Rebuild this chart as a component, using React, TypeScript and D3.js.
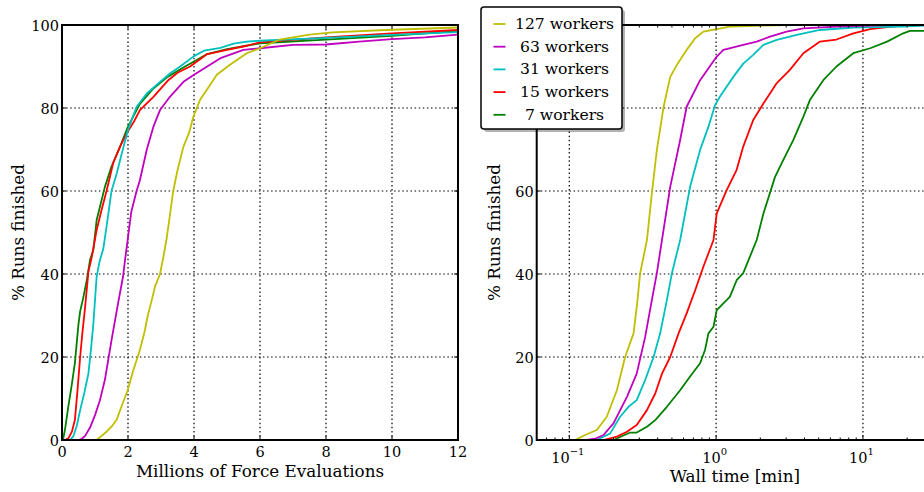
import React from 'react';
import * as d3 from 'd3';

type Pt = [number, number];

// Series metadata
const seriesLabels = ['127 workers', ' 63 workers', ' 31 workers', ' 15 workers', '  7 workers'];
const seriesColors = ['#bfbf00', '#bf00bf', '#00bfbf', '#ff0000', '#008000'];

// Cumulative % of runs finished vs. millions of force evaluations
const evals127: Pt[] = [[1.0,0],[1.05,0],[1.2,1],[1.35,2],[1.5,3.2],[1.65,4.8],[1.8,8],[1.99,12],[2.15,16.5],[2.36,21.7],[2.5,26],[2.6,30],[2.72,33.7],[2.82,37],[2.97,40],[3.07,44],[3.17,48.5],[3.25,53],[3.37,60],[3.5,65],[3.68,70.7],[3.85,74],[3.98,77.9],[4.18,81.9],[4.4,84.5],[4.58,86.7],[4.69,88],[5.1,90.5],[5.6,93.2],[6.0,94.4],[6.6,96.5],[7.5,97.7],[8.2,98.2],[9.8,98.8],[12,99.4]];
const evals63: Pt[] = [[0.5,0],[0.6,0.3],[0.7,1],[0.85,3],[1.0,6],[1.15,9.6],[1.3,14.5],[1.5,24],[1.7,33],[1.85,39.4],[1.92,44],[1.99,48.2],[2.1,55],[2.26,60],[2.36,62.6],[2.57,70],[2.77,75.5],[2.97,79.5],[3.27,82.7],[3.68,86.3],[4.0,88],[4.4,90],[4.8,92],[5.5,94],[6,94.4],[7,95.2],[8,95.3],[9,96],[10,96.6],[11,97],[12,97.7]];
const evals31: Pt[] = [[0.25,0],[0.35,1],[0.45,3.5],[0.55,7.2],[0.68,11.5],[0.8,16],[0.88,22],[0.95,28],[1.05,39.4],[1.15,43.4],[1.25,46],[1.35,51.4],[1.5,60],[1.66,64.3],[1.81,69],[2.0,74.7],[2.26,80.3],[2.57,83.5],[2.97,86.3],[3.3,88.5],[3.58,90],[4.0,92.5],[4.3,93.8],[4.8,94.5],[5.2,95.5],[5.6,96],[6,96.2],[8,96.9],[10,97.6],[12,98.3]];
const evals15: Pt[] = [[0.1,0],[0.2,0.5],[0.3,2],[0.39,4.8],[0.47,12],[0.55,20],[0.62,26],[0.7,32],[0.8,40.5],[0.9,44],[1.05,50.6],[1.2,55.5],[1.35,60],[1.55,66.7],[1.76,70.7],[1.96,73.9],[2.2,77],[2.36,79.5],[2.77,82.7],[3.22,86.7],[3.5,88.5],[3.88,90],[4.4,93],[5,94],[5.6,95],[6,95.8],[8,97],[10,98],[12,98.8]];
const evals7: Pt[] = [[0.03,0],[0.1,3],[0.19,8],[0.3,13.5],[0.39,18.5],[0.5,28],[0.55,31],[0.65,34.5],[0.75,38.5],[0.85,43.4],[0.95,45.8],[1.05,53],[1.3,61],[1.5,65.9],[1.76,70.7],[2.0,75.5],[2.36,81],[2.77,84.7],[3.2,87.5],[3.73,90],[4.4,93],[5,94.2],[6,95.6],[8,96.5],[10,97.4],[12,98.6]];

// Cumulative % of runs finished vs. wall time in minutes
const wall127: Pt[] = [[0.06,0],[0.11,0],[0.128,1.2],[0.154,2.4],[0.18,5.6],[0.211,12],[0.24,20],[0.274,25.7],[0.29,33],[0.304,40.2],[0.338,48.2],[0.366,59.8],[0.395,69.9],[0.439,80.3],[0.487,87.5],[0.541,90.4],[0.63,94],[0.72,96.8],[0.82,98.4],[1.01,99],[1.24,99.6],[3,100],[30,100]];
const wall63: Pt[] = [[0.06,0],[0.132,0],[0.15,0.3],[0.171,1.2],[0.2,4],[0.247,10.4],[0.288,16],[0.329,24.9],[0.365,33.7],[0.395,40.2],[0.428,48.2],[0.487,61],[0.569,72.3],[0.63,80.3],[0.778,86.7],[1.01,92.4],[1.12,94],[1.53,95.2],[1.89,96],[2.33,97.2],[3.02,98.4],[3.93,99.2],[6.6,99.6],[15,100],[30,100]];
const wall31: Pt[] = [[0.06,0],[0.154,0],[0.19,1.6],[0.222,5.6],[0.253,8],[0.288,9.6],[0.329,14.5],[0.375,20],[0.416,25.7],[0.462,33.7],[0.5,40.2],[0.569,48.2],[0.665,61],[0.778,69.9],[0.887,75.5],[0.984,80.7],[1.06,82.7],[1.31,87.5],[1.53,90.7],[1.79,92.8],[2.1,95.2],[2.59,96.4],[3.54,97.6],[5.1,98.8],[8.6,99.4],[18.6,99.6],[30,100]];
const wall15: Pt[] = [[0.06,0],[0.171,0],[0.211,0.8],[0.247,2],[0.288,3.6],[0.338,7.2],[0.385,11.2],[0.428,16],[0.487,20],[0.555,25.7],[0.63,30.5],[0.72,36.1],[0.82,41.8],[0.887,45],[0.96,48.2],[1.01,54.6],[1.18,60.2],[1.38,65.1],[1.53,70.7],[1.79,77.1],[2.1,81.1],[2.59,86],[3.18,89.2],[3.93,93.2],[5.1,96],[6.6,96.5],[8.6,98],[11.2,99],[14.6,99.5],[20,100],[30,100]];
const wall7: Pt[] = [[0.06,0],[0.2,0],[0.26,1.8],[0.288,1.8],[0.338,3.2],[0.385,4.8],[0.462,8],[0.569,12],[0.665,15.3],[0.778,18.5],[0.84,21.7],[0.887,25.7],[0.96,27.3],[1.01,31.3],[1.12,32.9],[1.24,34.5],[1.38,38.5],[1.53,40.2],[1.7,44.2],[1.89,48.2],[2.1,54.6],[2.52,63.4],[2.87,67.5],[3.36,72.3],[3.93,77.9],[4.35,81.9],[5.37,86.7],[6.6,90],[8.6,93.2],[11.2,94.4],[14.6,96],[18.8,98],[20.9,98.6],[30,98.6]];

const evalSeries = [evals127, evals63, evals31, evals15, evals7];
const wallSeries = [wall127, wall63, wall31, wall15, wall7];

// Axis ticks
const evalTicks = [0, 2, 4, 6, 8, 10, 12];
const pctTicks = [0, 20, 40, 60, 80, 100];
const wallMajorTicks = [0.1, 1, 10];
const wallTickExps = ['\u22121', '0', '1'];

const W = 924;
const H = 492;
const FONT = '"DejaVu Serif", "Liberation Serif", serif';
const TICK_FS = 14.5;
const LABEL_FS = 16.8;
const LEGEND_FS = 15.6;

const LP = { x0: 62, x1: 458, y0: 25, y1: 440 };
const RP = { x0: 536.7, x1: 933, y0: 25, y1: 440 };

const xEval = d3.scaleLinear().domain([0, 12]).range([LP.x0, LP.x1]);
const yL = d3.scaleLinear().domain([0, 100]).range([LP.y1, LP.y0]);
const xWall = d3.scaleLog().domain([0.06, 30]).range([RP.x0, RP.x1]);
const yR = d3.scaleLinear().domain([0, 100]).range([RP.y1, RP.y0]);

const wallMinorTicks = xWall.ticks().filter((t) => !wallMajorTicks.some((m) => Math.abs(m - t) < 1e-9));

const GRID_DASH = '1.5,2.6';

const legend = { x: 481, y: 7, w: 141, h: 122 };
const rowY = (i: number) => 24 + i * 22.7;

export default function App() {
  const lineL = d3.line<Pt>().x((d) => xEval(d[0])).y((d) => yL(d[1]));
  const lineR = d3.line<Pt>().x((d) => xWall(d[0])).y((d) => yR(d[1]));

  // right-panel y labels that sit beneath the legend box are not drawn
  const rightPctLabels = pctTicks.filter((t) => yR(t) > legend.y + legend.h + 4);

  return (
    <svg width={W} height={H} style={{ position: 'absolute', left: 0, top: 0, background: '#fff' }} fontFamily={FONT}>
      <defs>
        <clipPath id="clipL"><rect x={LP.x0} y={LP.y0 - 1} width={LP.x1 - LP.x0} height={LP.y1 - LP.y0 + 2} /></clipPath>
        <clipPath id="clipR"><rect x={RP.x0} y={RP.y0 - 1} width={RP.x1 - RP.x0} height={RP.y1 - RP.y0 + 2} /></clipPath>
      </defs>
      <rect width={W} height={H} fill="#fff" />

      {/* Left panel: grid */}
      <g stroke="#000" strokeWidth={1.2} strokeDasharray={GRID_DASH}>
        {evalTicks.slice(1, -1).map((t) => (
          <line key={'gx' + t} x1={xEval(t)} x2={xEval(t)} y1={LP.y0} y2={LP.y1} />
        ))}
        {pctTicks.slice(1, -1).map((t) => (
          <line key={'gy' + t} x1={LP.x0} x2={LP.x1} y1={yL(t)} y2={yL(t)} />
        ))}
      </g>
      {/* Left panel: curves */}
      <g clipPath="url(#clipL)" fill="none" strokeWidth={1.8} strokeLinejoin="round">
        {evalSeries.map((s, i) => (
          <path key={i} d={lineL(s) || ''} stroke={seriesColors[i]} />
        )).reverse()}
      </g>
      {/* Left panel: ticks */}
      <g stroke="#000" strokeWidth={1}>
        {evalTicks.map((t) => (
          <g key={'tx' + t}>
            <line x1={xEval(t)} x2={xEval(t)} y1={LP.y1} y2={LP.y1 - 4} />
            <line x1={xEval(t)} x2={xEval(t)} y1={LP.y0} y2={LP.y0 + 4} />
          </g>
        ))}
        {pctTicks.map((t) => (
          <g key={'ty' + t}>
            <line x1={LP.x0} x2={LP.x0 + 4} y1={yL(t)} y2={yL(t)} />
            <line x1={LP.x1} x2={LP.x1 - 4} y1={yL(t)} y2={yL(t)} />
          </g>
        ))}
      </g>
      <rect x={LP.x0} y={LP.y0} width={LP.x1 - LP.x0} height={LP.y1 - LP.y0} fill="none" stroke="#000" strokeWidth={2} />
      {/* Left panel: labels */}
      <g fontSize={TICK_FS} fill="#000">
        {evalTicks.map((t) => (
          <text key={'lx' + t} x={xEval(t)} y={457} textAnchor="middle">{t}</text>
        ))}
        {pctTicks.map((t) => (
          <text key={'ly' + t} x={LP.x0 - 3} y={yL(t) + 1} textAnchor="end" dominantBaseline="central">{t}</text>
        ))}
      </g>
      <text x={(LP.x0 + LP.x1) / 2} y={476.5} textAnchor="middle" fontSize={LABEL_FS}>Millions of Force Evaluations</text>
      <text transform={`translate(18,${(LP.y0 + LP.y1) / 2}) rotate(-90)`} textAnchor="middle" dominantBaseline="central" fontSize={LABEL_FS}>% Runs finished</text>

      {/* Right panel: grid */}
      <g stroke="#000" strokeWidth={1.2} strokeDasharray={GRID_DASH}>
        {wallMajorTicks.map((t) => (
          <line key={'rgx' + t} x1={xWall(t)} x2={xWall(t)} y1={RP.y0} y2={RP.y1} />
        ))}
        {pctTicks.slice(1, -1).map((t) => (
          <line key={'rgy' + t} x1={RP.x0} x2={RP.x1} y1={yR(t)} y2={yR(t)} />
        ))}
      </g>
      {/* Right panel: curves */}
      <g clipPath="url(#clipR)" fill="none" strokeWidth={1.8} strokeLinejoin="round">
        {wallSeries.map((s, i) => (
          <path key={i} d={lineR(s) || ''} stroke={seriesColors[i]} />
        )).reverse()}
      </g>
      {/* Right panel: ticks */}
      <g stroke="#000" strokeWidth={1}>
        {wallMajorTicks.map((t) => (
          <g key={'rtx' + t}>
            <line x1={xWall(t)} x2={xWall(t)} y1={RP.y1} y2={RP.y1 - 4.5} />
            <line x1={xWall(t)} x2={xWall(t)} y1={RP.y0} y2={RP.y0 + 4.5} />
          </g>
        ))}
        {wallMinorTicks.map((t) => (
          <g key={'rmx' + t}>
            <line x1={xWall(t)} x2={xWall(t)} y1={RP.y1} y2={RP.y1 - 2.5} />
            <line x1={xWall(t)} x2={xWall(t)} y1={RP.y0} y2={RP.y0 + 2.5} />
          </g>
        ))}
        {pctTicks.map((t) => (
          <g key={'rty' + t}>
            <line x1={RP.x0} x2={RP.x0 + 4} y1={yR(t)} y2={yR(t)} />
            <line x1={RP.x1} x2={RP.x1 - 4} y1={yR(t)} y2={yR(t)} />
          </g>
        ))}
      </g>
      <rect x={RP.x0} y={RP.y0} width={RP.x1 - RP.x0} height={RP.y1 - RP.y0} fill="none" stroke="#000" strokeWidth={2} />
      {/* Right panel: labels */}
      <g fontSize={TICK_FS} fill="#000">
        {wallMajorTicks.map((t, i) => (
          <text key={'rlx' + t} x={xWall(t) - 1.5} y={463} textAnchor="middle">
            10<tspan dy={-8} fontSize={10}>{wallTickExps[i]}</tspan>
          </text>
        ))}
        {rightPctLabels.map((t) => (
          <text key={'rly' + t} x={RP.x0 - 3} y={yR(t) + 1} textAnchor="end" dominantBaseline="central">{t}</text>
        ))}
      </g>
      <text x={(RP.x0 + RP.x1) / 2} y={482} textAnchor="middle" fontSize={LABEL_FS}>Wall time [min]</text>
      <text transform={`translate(494,${(RP.y0 + RP.y1) / 2}) rotate(-90)`} textAnchor="middle" dominantBaseline="central" fontSize={LABEL_FS}>% Runs finished</text>

      {/* Legend */}
      <rect x={legend.x + 3} y={legend.y + 3} width={legend.w} height={legend.h} rx={3} fill="#000" opacity={0.3} />
      <rect x={legend.x} y={legend.y} width={legend.w} height={legend.h} rx={3} fill="#fff" stroke="#000" strokeWidth={1.5} />
      {seriesLabels.map((lab, i) => (
        <g key={'lg' + i}>
          <line x1={493.5} x2={505.5} y1={rowY(i)} y2={rowY(i)} stroke={seriesColors[i]} strokeWidth={1.8} />
          <text x={515} y={rowY(i)} dominantBaseline="central" fontSize={LEGEND_FS} style={{ whiteSpace: 'pre' }}>{lab}</text>
        </g>
      ))}
    </svg>
  );
}
